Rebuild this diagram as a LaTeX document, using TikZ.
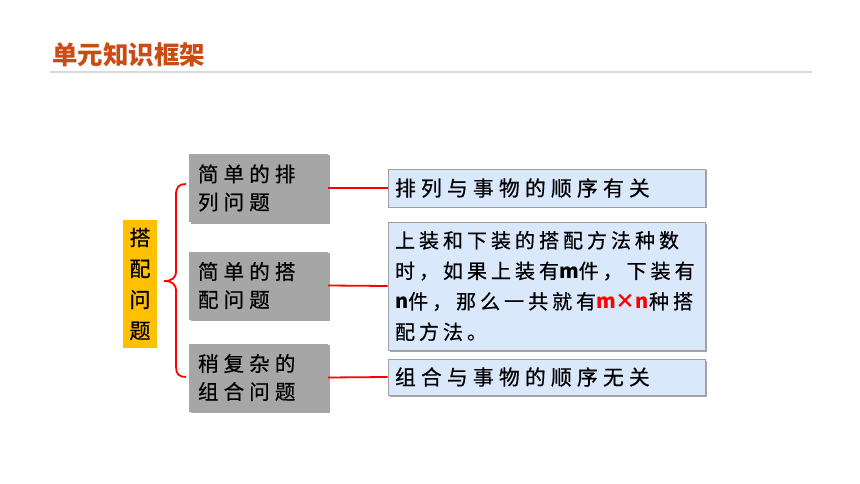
\documentclass[tikz,border=0pt]{standalone}
\usepackage{fontspec}
\setmainfont{Noto Sans CJK SC}
\newfontfamily\cjk{Noto Sans CJK SC}[LetterSpace=20, FakeBold=0.6]
\newfontfamily\cjkw{Noto Sans CJK SC}[LetterSpace=25, FakeBold=0.6]
\newfontfamily\lat{Noto Sans CJK SC}
\usetikzlibrary{shadows}
\definecolor{titlec}{RGB}{200,76,20}
\definecolor{grayc}{RGB}{166,166,166}
\definecolor{bluec}{RGB}{218,232,252}
\definecolor{blueb}{RGB}{160,160,160}
\definecolor{yellowc}{RGB}{255,192,0}
\definecolor{linec}{RGB}{217,217,217}
\definecolor{redc}{RGB}{255,0,0}
\newcommand{\lb}[1]{{\lat\bfseries #1}}
\tikzset{
  graybox/.style={fill=grayc, draw=none, minimum width=139pt, minimum height=68pt,
    text width=121pt, align=left, inner sep=0pt,
    font=\cjkw\fontsize{20.5}{28}\selectfont,
    drop shadow={shadow xshift=1.5pt, shadow yshift=-1.5pt, opacity=0.35, fill=black}},
  bluebox/.style={fill=bluec, draw=blueb, line width=0.8pt, minimum width=317pt,
    text width=303pt, align=left, inner sep=0pt,
    font=\cjk\fontsize{20}{30.5}\selectfont,
    drop shadow={shadow xshift=1.5pt, shadow yshift=-1.5pt, opacity=0.35, fill=black}},
  wide/.style={font=\cjkw\fontsize{20.8}{30.5}\selectfont},
  yellowbox/.style={fill=yellowc, draw=none, minimum width=34pt, minimum height=128pt,
    align=center, inner sep=0pt, font=\cjk\fontsize{21}{31}\selectfont},
  conn/.style={draw=redc, line width=1.8pt},
}
\begin{document}
\begin{tikzpicture}[x=1pt,y=-1pt]
\useasboundingbox (0,0) rectangle (860,484);
\fill[white] (0,0) rectangle (860,484);
% title
\node[anchor=west, text=titlec, inner sep=0pt, font=\bfseries\fontsize{25.5}{25.5}\selectfont] (title) at (52,55) {单元知识框架};
\coordinate (l1) at (50,72);
\coordinate (l2) at (812,72);
\draw[linec, line width=1.5pt] (l1) -- (l2);
% root
\node[yellowbox] (root) at (140,284) {搭\\配\\问\\题};
% brace
\draw[redc, line width=1.8pt] (186,184) .. controls (179,184) and (176,187) .. (176,195)
  -- (176,271) .. controls (176,278) and (172,281) .. (164,281)
  .. controls (172,281) and (176,284) .. (176,291)
  -- (176,367) .. controls (176,374) and (179,377) .. (186,377);
% gray boxes
\node[graybox] (g1) at (258.5,188) {简单的排\\列问题};
\node[graybox] (g2) at (258.5,285.5) {简单的搭\\配问题};
\node[graybox] (g3) at (258.5,377.5) {稍复杂的\\组合问题};
% blue boxes
\node[bluebox, wide, minimum height=38pt] (b1) at (546.5,188) {排列与事物的顺序有关};
\node[bluebox, minimum height=128pt] (b2) at (546.5,286) {上装和下装的搭配方法种数\\时，如果上装有\lb{m}件，下装有\\\lb{n}件，那么一共就有{\color{redc}\lb{m×n}}种搭\\配方法。};
\node[bluebox, wide, minimum height=36pt] (b3) at (546.5,377) {组合与事物的顺序无关};
% connectors
\draw[conn] (g1.east) -- (b1.west);
\draw[conn] (g2.east) -- (b2.west);
\draw[conn] (g3.east) -- (b3.west);
\end{tikzpicture}
\end{document}
